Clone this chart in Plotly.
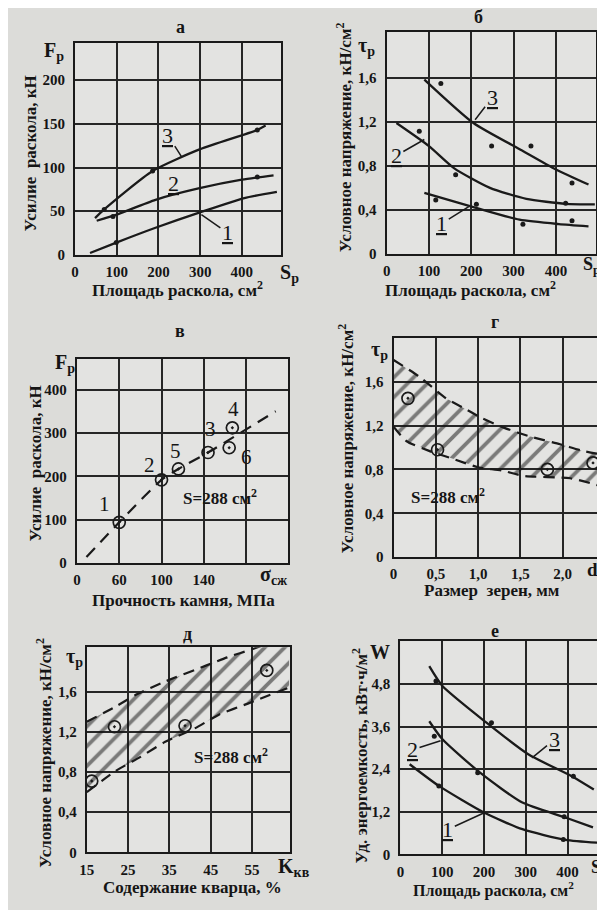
import plotly.graph_objects as go

# The page body keeps its default 8px margin, so the figure is drawn 8px in from
# the window's top-left corner; the layout below is given in window pixels.
OFF = 8
SW, SH = 605, 910
W, H = SW - OFF, SH - OFF
FONT = "Liberation Serif"
TXT = "#151515"
LINE = "#1a1a1a"
GRID = "#262626"
BG = "#dcdcd9"
PLOTBG = "#e3e3e1"
NB = "\u00a0"

# ---------------- data ----------------
# а : force vs split area
a_s1 = [36, 99, 193, 296, 406, 484]
a_f1 = [2, 14, 31, 48, 65, 72]
a_s2 = [52, 100, 193, 296, 400, 476]
a_f2 = [39, 46, 63, 76, 86, 91]
a_s3 = [48, 70, 186, 300, 437, 457]
a_f3 = [42, 52, 96, 121, 143, 148]
a_dot_s = [99, 91, 437, 70, 186, 437]
a_dot_f = [14, 44, 89, 52, 96, 143]

# б : conditional stress vs split area
b_s1 = [89, 209, 314, 407, 477]
b_t1 = [0.555, 0.42, 0.31, 0.27, 0.25]
b_s2 = [23, 100, 159, 244, 330, 423, 492]
b_t2 = [1.19, 0.98, 0.78, 0.60, 0.50, 0.455, 0.45]
b_s3 = [89, 205, 320, 399, 477]
b_t3 = [1.585, 1.19, 0.94, 0.77, 0.63]
b_dot_s = [116, 212, 322, 438, 77, 163, 423, 128, 248, 341, 438]
b_dot_t = [0.49, 0.45, 0.27, 0.30, 1.115, 0.72, 0.46, 1.55, 0.98, 0.98, 0.645]

# в : force vs stone strength
v_sigma = [60, 100, 144, 167, 116, 164]
v_force = [94, 192, 255, 312, 217, 266]
v_labels = ["1", "2", "3", "4", "5", "6"]
v_trend_sigma = [29, 60, 100, 116, 144, 208]
v_trend_force = [14, 94, 192, 217, 255, 350]

# г : stress vs grain size (band)
g_up_d = [0, 0.31, 0.62, 0.81, 1.04, 1.31, 1.62, 1.97, 2.24, 2.44]
g_up_t = [1.80, 1.645, 1.45, 1.37, 1.27, 1.18, 1.10, 1.03, 0.97, 0.94]
g_lo_d = [0, 0.15, 0.42, 0.73, 1.0, 1.28, 1.55, 2.09, 2.44]
g_lo_t = [1.19, 1.06, 0.97, 0.89, 0.82, 0.79, 0.74, 0.72, 0.65]
g_pt_d = [0.17, 0.52, 1.82, 2.36]
g_pt_t = [1.45, 0.98, 0.80, 0.86]

# д : stress vs quartz content (band)
d_up_k = [15, 22, 27, 34, 44, 49, 55, 64]
d_up_t = [1.30, 1.45, 1.57, 1.70, 1.86, 1.94, 2.02, 2.15]
d_lo_k = [15, 22, 28, 34, 41, 47, 54, 64]
d_lo_t = [0.60, 0.81, 0.95, 1.10, 1.23, 1.37, 1.48, 1.64]
d_pt_k = [16.2, 21.7, 38.8, 58.6]
d_pt_t = [0.71, 1.25, 1.26, 1.81]

# е : specific energy vs split area
e_s1 = [22, 92, 200, 292, 395, 485]
e_w1 = [2.54, 1.93, 1.18, 0.71, 0.41, 0.32]
e_s2 = [69, 100, 193, 292, 395, 461]
e_w2 = [3.75, 3.25, 2.28, 1.46, 1.04, 0.76]
e_s3 = [69, 100, 206, 306, 412, 463]
e_w3 = [5.30, 4.75, 3.71, 2.82, 2.19, 1.83]
e_dot_s = [85, 218, 414, 81, 185, 392, 92, 390]
e_dot_w = [4.88, 3.71, 2.20, 3.33, 2.30, 1.06, 1.93, 0.42]

# ticks
area_ticks = [0, 100, 200, 300, 400]
area_text = ["0", "100", "200", "300", "400"]
a_fticks = [0, 50, 100, 150, 200]
tau_ticks = [0, 0.4, 0.8, 1.2, 1.6]
tau_text = ["0", "0,4", "0,8", "1,2", "1,6"]
v_xticks = [20, 60, 100, 140, 180]
v_xtext = ["0", "60", "100", "140", ""]
v_yticks = [0, 100, 200, 300, 400]
g_xticks = [0, 0.5, 1.0, 1.5, 2.0]
g_xtext = ["0", "0,5", "1,0", "1,5", "2,0"]
d_xticks = [15, 25, 35, 45, 55]
e_yticks = [0, 1.2, 2.4, 3.6, 4.8]
e_ytext = ["0", "1,2", "2,4", "3,6", "4,8"]

# ---------------- figure ----------------
fig = go.Figure()


def fx(px):
    return (px - OFF) / W


def fy(py):
    return 1 - (py - OFF) / H


def dom_x(l, r):
    return [fx(l), min(fx(r), 1.0)]


def dom_y(t, b):
    return [fy(b), fy(t)]


def axis(domain, rng, tv, tt, anchor, tl):
    return dict(domain=domain, range=rng, tickvals=tv, ticktext=tt,
                showgrid=True, gridcolor=GRID, gridwidth=1.6,
                showline=True, mirror=True, linecolor=LINE, linewidth=2.2,
                zeroline=False, ticks="outside", ticklen=tl,
                tickcolor="rgba(0,0,0,0)", anchor=anchor, fixedrange=True,
                tickfont=dict(family=FONT, size=15, color=TXT, weight="bold"))


panels = {
    "1": (dom_x(68, 278), dom_y(43, 257), [0, 495], [0, 243], area_ticks, area_text, a_fticks, [str(v) for v in a_fticks]),
    "2": (dom_x(385, 598), dom_y(32, 256), [0, 495], [0, 2.02], area_ticks, area_text, tau_ticks, tau_text),
    "3": (dom_x(70, 285), dom_y(362, 568), [20, 220], [0, 471], v_xticks, v_xtext, v_yticks, [str(v) for v in v_yticks]),
    "4": (dom_x(392, 600), dom_y(341, 562), [0, 2.42], [0, 2.0], g_xticks, g_xtext, tau_ticks, tau_text),
    "5": (dom_x(80, 287), dom_y(653, 860), [15, 64.3], [0, 2.04], d_xticks, [str(v) for v in d_xticks], tau_ticks, tau_text),
    "6": (dom_x(399, 607), dom_y(647, 862), [0, 485], [0, 6.0], area_ticks, area_text, e_yticks, e_ytext),
}

layout_axes = {}
for k, (dx, dy, rx, ry, xtv, xtt, ytv, ytt) in panels.items():
    xn = "xaxis" if k == "1" else "xaxis" + k
    yn = "yaxis" if k == "1" else "yaxis" + k
    xr = "x" if k == "1" else "x" + k
    yr = "y" if k == "1" else "y" + k
    layout_axes[xn] = axis(dx, rx, xtv, xtt, yr, 2)
    layout_axes[yn] = axis(dy, ry, ytv, ytt, xr, 5)


def ref(k):
    return ("x" if k == "1" else "x" + k), ("y" if k == "1" else "y" + k)


def curve(k, xs, ys, dash="solid", width=2.3):
    xr, yr = ref(k)
    fig.add_trace(go.Scatter(x=xs, y=ys, xaxis=xr, yaxis=yr, mode="lines",
                             line=dict(color=LINE, width=width, dash=dash, shape="spline", smoothing=0.6),
                             showlegend=False, hoverinfo="skip"))


def dots(k, xs, ys, symbol="circle", size=5, lw=0):
    xr, yr = ref(k)
    fig.add_trace(go.Scatter(x=xs, y=ys, xaxis=xr, yaxis=yr, mode="markers",
                             marker=dict(symbol=symbol, size=size, color=LINE,
                                         line=dict(color=LINE, width=lw)),
                             showlegend=False, hoverinfo="skip"))


def band(k, ux, uy, lx, ly):
    xr, yr = ref(k)
    fig.add_trace(go.Scatter(x=ux + lx[::-1], y=uy + ly[::-1], xaxis=xr, yaxis=yr,
                             mode="lines", fill="toself", line=dict(width=0, color="rgba(0,0,0,0)"),
                             fillcolor="rgba(0,0,0,0)",
                             fillpattern=dict(shape="/", size=14, solidity=0.27,
                                              fgcolor="#111111", bgcolor="rgba(0,0,0,0)"),
                             showlegend=False, hoverinfo="skip"))
    curve(k, ux, uy, dash="11px,7px", width=2.2)
    curve(k, lx, ly, dash="11px,7px", width=2.2)


# а
curve("1", a_s1, a_f1)
curve("1", a_s2, a_f2)
curve("1", a_s3, a_f3)
dots("1", a_dot_s, a_dot_f, size=5)
# б
curve("2", b_s1, b_t1)
curve("2", b_s2, b_t2)
curve("2", b_s3, b_t3)
dots("2", b_dot_s, b_dot_t, size=5)
# в
curve("3", v_trend_sigma, v_trend_force, dash="12px,8px", width=2.2)
dots("3", v_sigma, v_force, symbol="circle-open-dot", size=12, lw=1.7)
# г
band("4", g_up_d, g_up_t, g_lo_d, g_lo_t)
dots("4", g_pt_d, g_pt_t, symbol="circle-open-dot", size=12, lw=1.7)
# д
band("5", d_up_k, d_up_t, d_lo_k, d_lo_t)
dots("5", d_pt_k, d_pt_t, symbol="circle-open-dot", size=12, lw=1.7)
# е
curve("6", e_s1, e_w1)
curve("6", e_s2, e_w2)
curve("6", e_s3, e_w3)
dots("6", e_dot_s, e_dot_w, size=5)

# ---------------- annotations ----------------
ann = []


def ptxt(s, px, py, size=16, angle=0, xa="center", bold=True):
    ann.append(dict(text=s, x=fx(px), y=fy(py), xref="paper", yref="paper",
                    showarrow=False, textangle=angle, xanchor=xa, yanchor="middle",
                    font=dict(family=FONT, size=size, color=TXT,
                              weight="bold" if bold else "normal")))


# panel letters
for s, px, py in [("а", 175, 27), ("б", 478, 17), ("в", 175, 334),
                  ("г", 495, 325), ("д", 182, 640), ("е", 495, 637)]:
    ptxt(s, px, py, size=18)

# y titles
TAU_T = "Условное напряжение, кН/см<sup>2</sup>"
F_T = "Усилие" + NB + NB + "раскола, кН"
for s, px, py in [(F_T, 23, 155), (TAU_T, 341, 138),
                  (F_T, 28, 468), (TAU_T, 344, 442),
                  (TAU_T, 37, 760), ("Уд. энергоемкость, кВт·ч/м<sup>2</sup>", 358, 762)]:
    ptxt(s, px, py, size=17, angle=-90)

# x titles
AREA_T = "Площадь раскола, см<sup>2</sup>"
for s, px, py, sz in [(AREA_T, 172, 292, 17), (AREA_T, 470, 292, 17),
                      ("Прочность камня, МПа", 178, 606, 17), ("Размер" + NB + NB + "зерен, мм", 492, 596, 17),
                      ("Содержание кварца, %", 187, 895, 17), (AREA_T, 494, 897, 16)]:
    ptxt(s, px, py, size=sz)

# axis symbols
for s, px, py, xa, sz in [("F<sub>p</sub>", 47, 52, "center", 20), ("S<sub>p</sub>", 286, 276, "center", 20),
                          ("τ<sub>p</sub>", 364, 47, "center", 20), ("S<sub>p</sub>", 604, 268, "right", 18),
                          ("F<sub>p</sub>", 58, 367, "center", 20), ("σ<sub>сж</sub>", 270, 581, "center", 20),
                          ("τ<sub>p</sub>", 378, 354, "center", 20), ("d", 602, 575, "right", 19),
                          ("τ<sub>p</sub>", 67, 663, "center", 20), ("K<sub>кв</sub>", 291, 875, "center", 20),
                          ("W", 378, 658, "center", 20), ("S", 605, 875, "right", 18)]:
    ptxt(s, px, py, size=sz, xa=xa)


def lead(k, s, x, y, ax, ay, size=22):
    xr, yr = ref(k)
    ann.append(dict(text="<span style='text-decoration:underline'>" + s + "</span>",
                    x=x, y=y, xref=xr, yref=yr, ax=ax, ay=ay,
                    showarrow=True, arrowhead=0, arrowwidth=1.5, arrowcolor=LINE,
                    font=dict(family=FONT, size=size, color=TXT)))


def dtxt(k, s, x, y, size=14, xs=0, ys=0, bold=True):
    xr, yr = ref(k)
    ann.append(dict(text=s, x=x, y=y, xref=xr, yref=yr, showarrow=False,
                    xshift=xs, yshift=ys,
                    font=dict(family=FONT, size=size, color=TXT,
                              weight="bold" if bold else "normal")))


# curve labels
lead("1", "3", 256, 112, -14, -22)
dtxt("1", "<span style='text-decoration:underline'>2</span>", 237, 82, size=22, bold=False)
lead("1", "1", 303, 46, 26, 18)
lead("2", "3", 209, 1.22, 17, -22)
lead("2", "2", 89, 1.04, -28, 16)
lead("2", "1", 194, 0.43, -27, 17)
lead("6", "3", 315, 2.72, 22, -18)
lead("6", "2", 96, 3.2, -28, 9)
lead("6", "1", 202, 1.18, -37, 17)

# в point numbers
v_dx = [-15, -12, 2, 1, -3, 17]
v_dy = [18, 15, 23, 19, 18, -9]
for s, x, y, sx, sy in zip(v_labels, v_sigma, v_force, v_dx, v_dy):
    dtxt("3", s, x, y, size=21, xs=sx, ys=sy, bold=False)

# S=288 labels
dtxt("3", "S=288 см<sup>2</sup>", 155, 152, size=17)
dtxt("4", "S=288 см<sup>2</sup>", 0.64, 0.56, size=17)
dtxt("5", "S=288 см<sup>2</sup>", 49.9, 0.955, size=17)

fig.update_layout(width=W, height=H, margin=dict(l=0, r=0, t=0, b=0),
                  paper_bgcolor=BG, plot_bgcolor=PLOTBG, showlegend=False,
                  annotations=ann, **layout_axes)

fig.write_html("out.html")
